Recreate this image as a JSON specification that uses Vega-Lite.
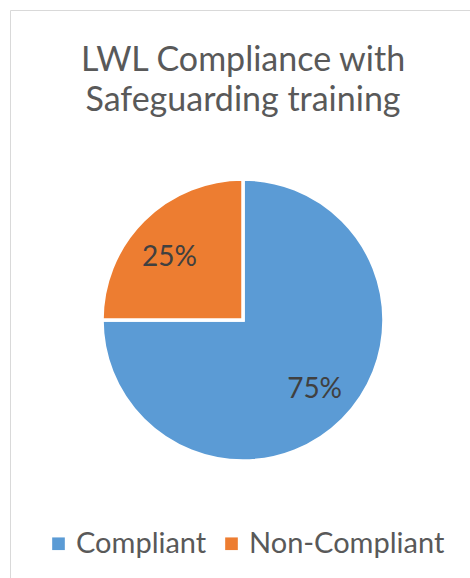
{
  "$schema": "https://vega.github.io/schema/vega-lite/v6.json",
  "width": 466,
  "height": 620,
  "autosize": {"type": "none"},
  "padding": {"left": 10, "top": 10, "right": -6, "bottom": -52},
  "background": "white",
  "view": {"stroke": "#d9d9d9", "strokeWidth": 1},
  "title": {
    "text": ["LWL Compliance with", "Safeguarding training"],
    "font": "Lato",
    "fontSize": 34,
    "fontWeight": "normal",
    "color": "#595959",
    "anchor": "middle",
    "frame": "group",
    "offset": -108,
    "lineHeight": 40
  },
  "data": {
    "values": [
      {"status": "Compliant", "share": 0.75},
      {"status": "Non-Compliant", "share": 0.25}
    ]
  },
  "encoding": {
    "theta": {"field": "share", "type": "quantitative", "stack": true},
    "order": {"field": "status", "type": "nominal", "sort": "ascending"},
    "color": {
      "field": "status",
      "type": "nominal",
      "scale": {"domain": ["Compliant", "Non-Compliant"], "range": ["#5B9BD5", "#ED7D31"]},
      "legend": {
        "title": null,
        "orient": "none",
        "legendX": 34,
        "legendY": 519,
        "direction": "horizontal",
        "symbolType": "square",
        "symbolSize": 160,
        "symbolStrokeWidth": 0,
        "labelFont": "Lato",
        "labelFontSize": 29,
        "labelColor": "#595959",
        "labelOffset": 3,
        "labelLimit": 400,
        "columnPadding": 10
      }
    }
  },
  "layer": [
    {
      "mark": {"type": "arc", "outerRadius": 141, "stroke": "white", "strokeWidth": 3.5}
    },
    {
      "mark": {"type": "text", "radius": 97, "font": "Lato", "fontSize": 28, "dx": -5, "dy": 7},
      "encoding": {
        "text": {"field": "share", "type": "quantitative", "format": ".0%"},
        "color": {"value": "#404040"},
        "opacity": {"condition": {"test": "datum.status === 'Non-Compliant'", "value": 1}, "value": 0}
      }
    },
    {
      "mark": {"type": "text", "radius": 97, "font": "Lato", "fontSize": 28, "dx": 3, "dy": 1},
      "encoding": {
        "text": {"field": "share", "type": "quantitative", "format": ".0%"},
        "color": {"value": "#404040"},
        "opacity": {"condition": {"test": "datum.status === 'Compliant'", "value": 1}, "value": 0}
      }
    }
  ]
}
